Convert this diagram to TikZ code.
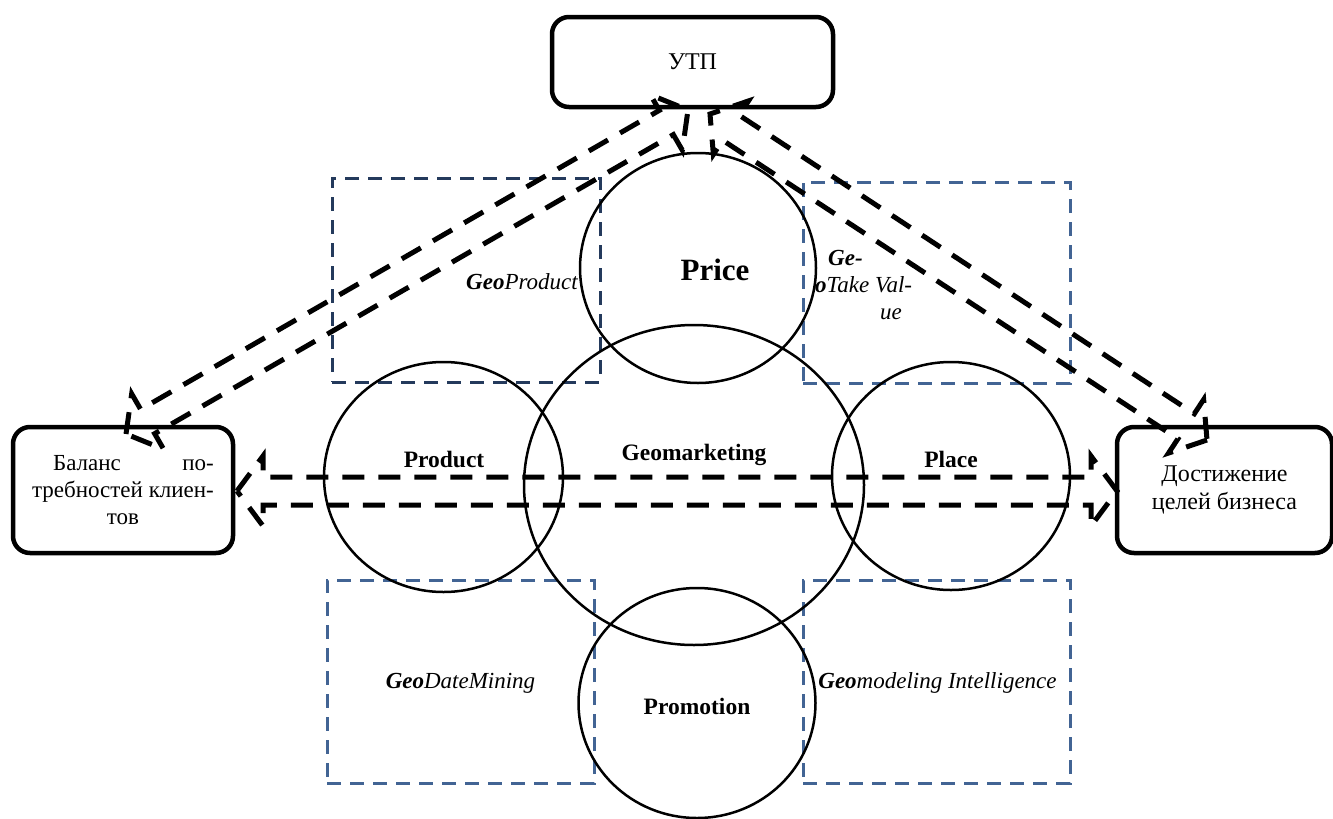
\documentclass[tikz,border=0pt]{standalone}
\usepackage{fontspec}
\setmainfont{Liberation Serif}
\usetikzlibrary{shapes.geometric,calc}
\definecolor{navyA}{RGB}{36,58,92}
\definecolor{navyB}{RGB}{66,100,148}
% outline of a double-headed block arrow: #1 tip, #2 tip, #3 shaft half width, #4 head half width, #5 head length
\newcommand\dblblockarrow[5]{%
  \draw[arrowline] (#1)
    -- ($(#1)!#5!(#2)!#4!90:(#2)$)
    -- ($(#1)!#5!(#2)!#3!90:(#2)$)
    -- ($(#2)!#5!(#1)!#3!-90:(#1)$)
    -- ($(#2)!#5!(#1)!#4!-90:(#1)$)
    -- (#2)
    -- ($(#2)!#5!(#1)!#4!90:(#1)$)
    -- ($(#2)!#5!(#1)!#3!90:(#1)$)
    -- ($(#1)!#5!(#2)!#3!-90:(#2)$)
    -- ($(#1)!#5!(#2)!#4!-90:(#2)$)
    -- cycle;}
\begin{document}
\begin{tikzpicture}[x=1pt,y=-1pt,
  box/.style={draw, line width=4.5pt, rounded corners=17pt, inner sep=0pt,
    font=\fontsize{24}{28}\selectfont},
  ring/.style={draw, ellipse, line width=2.5pt, inner sep=0pt},
  lbl/.style={font=\fontsize{23.5}{28}\selectfont\bfseries, inner sep=0pt},
  geo/.style={font=\fontsize{23}{27}\selectfont\itshape, inner sep=0pt},
  zone/.style={draw, line width=3pt, dash pattern=on 14pt off 9pt, inner sep=0pt},
  arrowline/.style={line width=5pt, dash pattern=on 22pt off 14pt, line join=miter}]
\useasboundingbox (0,0) rectangle (1333,819);

% dashed zones
\node[zone, draw=navyA, minimum width=268pt, minimum height=204pt] (zprod) at (466,280) {};
\node[zone, draw=navyB, minimum width=267pt, minimum height=201pt] (ztake) at (936.5,282.5) {};
\node[zone, draw=navyB, minimum width=267pt, minimum height=203pt] (zdata) at (460.5,681.5) {};
\node[zone, draw=navyB, minimum width=267pt, minimum height=203pt] (zmodel) at (936.5,681.5) {};

% circles
\node[ring, minimum width=236pt, minimum height=230pt] (price) at (698,268) {};
\node[ring, minimum width=340pt, minimum height=320pt] (geom) at (694,485) {};
\node[ring, minimum width=239pt, minimum height=230pt] (product) at (443.5,477) {};
\node[ring, minimum width=238pt, minimum height=228pt] (place) at (951,476) {};
\node[ring, minimum width=237pt, minimum height=230pt] (promo) at (697,703) {};

% labels
\node[lbl, font=\fontsize{31}{34}\selectfont\bfseries] (tprice) at (715,270) {Price};
\node[lbl] (tgeom) at (694,455) {Geomarketing};
\node[lbl] (tproduct) at (444,459) {Product};
\node[lbl] (tplace) at (951,459) {Place};
\node[lbl] (tpromo) at (697,706) {Promotion};

\node[geo] (tgprod) at (522,282) {\textbf{Geo}Product};
\node[geo, align=left, anchor=west] (tgtake) at (815,285) {\hspace*{13pt}\textbf{Ge-}\\\textbf{o}Take Val-\\\hspace*{65pt}ue};
\node[geo] (tgdata) at (460.5,683) {\textbf{Geo}DateMining};
\node[geo] (tgmodel) at (937.5,683) {\textbf{Geo}modeling Intelligence};

% boxes
\node[box, minimum width=281pt, minimum height=90pt] (utp) at (692.5,62) {УТП};
\node[box, minimum width=220pt, minimum height=126pt, align=center,
  font=\fontsize{23}{27}\selectfont] (bal) at (123,490)
  {\sbox0{требностей клиен-}\makebox[\wd0]{\hspace*{21pt}Баланс\hfill по-}\\требностей клиен-\\тов};
\node[box, minimum width=215pt, minimum height=126pt, align=center] (dost) at (1224.5,490)
  {Достижение\\целей бизнеса};

% arrow end points
\coordinate (hA) at (237,491);
\coordinate (hB) at (1117,491);
\coordinate (lA) at (126,434);
\coordinate (lB) at (688,110);
\coordinate (rA) at (1207,440);
\coordinate (rB) at (710,114);

\dblblockarrow{hA}{hB}{14pt}{35pt}{26pt}
\dblblockarrow{lA}{lB}{14pt}{32pt}{25pt}
\dblblockarrow{rA}{rB}{15pt}{32pt}{25pt}
\end{tikzpicture}
\end{document}
